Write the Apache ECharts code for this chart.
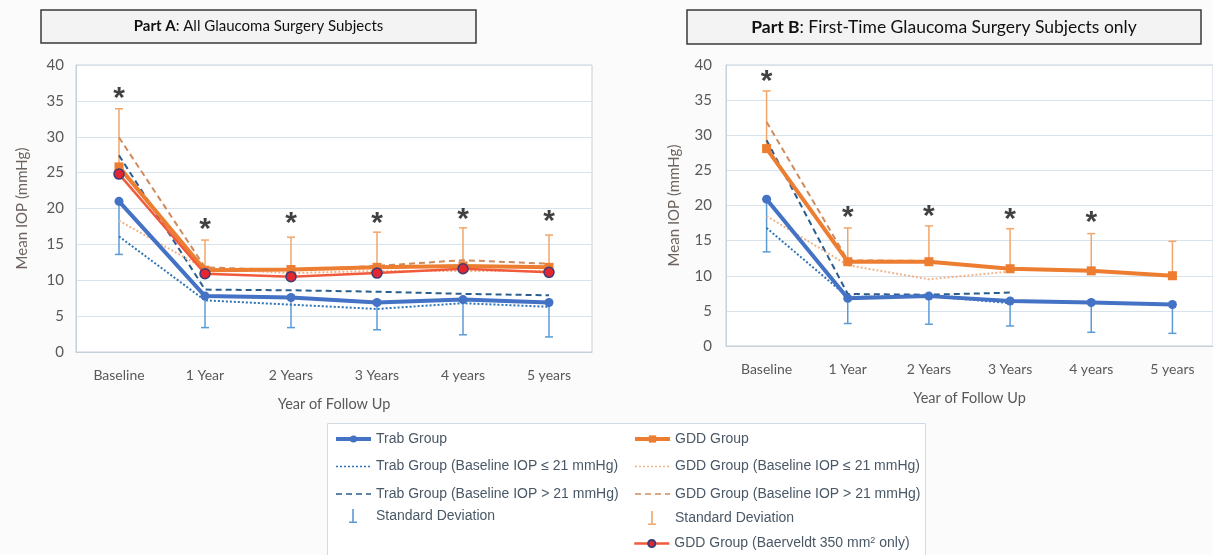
<!DOCTYPE html>
<html>
<head>
<meta charset="utf-8">
<script src="https://cdn.jsdelivr.net/npm/echarts@6/dist/echarts.min.js"></script>
<style>
html,body{margin:0;padding:0;background:#fbfbfb;}
#c{width:1213px;height:555px;}
</style>
</head>
<body>
<div id="c"></div>
<script>
// ---------- data ----------
const categories = ['Baseline', '1 Year', '2 Years', '3 Years', '4 years', '5 years'];
const yTicks = [0, 5, 10, 15, 20, 25, 30, 35, 40];

// Part A: All Glaucoma Surgery Subjects
const trabA    = [21.0, 7.8, 7.6, 6.9, 7.3, 6.9];
const trabLowA = [13.6, 3.4, 3.4, 3.1, 2.4, 2.1];
const trabLeA  = [16.1, 7.2, 6.6, 6.0, 6.8, 6.3];
const trabGtA  = [27.4, 8.7, 8.6, 8.4, 8.1, 7.9];
const gddA     = [25.8, 11.4, 11.5, 11.8, 12.0, 11.8];
const gddHighA = [33.9, 15.6, 16.0, 16.7, 17.3, 16.3];
const gddLeA   = [18.3, 11.6, 11.0, 11.3, 11.3, 11.3];
const gddGtA   = [29.9, 11.8, 11.4, 12.0, 12.8, 12.3];
const baerA    = [24.8, 10.9, 10.5, 11.0, 11.6, 11.1];
const starA    = [36.0, 17.8, 18.6, 18.6, 19.2, 18.8];

// Part B: First-Time Glaucoma Surgery Subjects only
const trabB    = [20.9, 6.8, 7.1, 6.4, 6.2, 5.9];
const trabLowB = [13.4, 3.2, 3.1, 2.85, 1.95, 1.8];
const trabLeB  = [16.8, 7.0, 7.1, 6.1, null, null];
const trabGtB  = [29.3, 7.4, 7.3, 7.6, null, null];
const gddB     = [28.1, 12.0, 12.0, 11.0, 10.7, 10.0];
const gddHighB = [36.3, 16.8, 17.1, 16.7, 16.0, 14.9];
const gddLeB   = [18.5, 11.5, 9.5, 10.6, null, null];
const gddGtB   = [31.9, 12.2, 12.1, 11.0, null, null];
const starB    = [38.4, 18.9, 19.1, 18.7, 18.2, null];

// ---------- names ----------
const N_TRAB = 'Trab Group';
const N_TRAB_LE = 'Trab Group (Baseline IOP \u2264 21 mmHg)';
const N_TRAB_GT = 'Trab Group (Baseline IOP > 21 mmHg)';
const N_SD_T = 'Standard Deviation';
const N_GDD = 'GDD Group';
const N_GDD_LE = 'GDD Group (Baseline IOP \u2264 21 mmHg)';
const N_GDD_GT = 'GDD Group (Baseline IOP > 21 mmHg)';
const N_SD_G = 'Standard Deviation (GDD)';
const N_BAER = 'GDD Group (Baerveldt 350 mm2 only)';

const C = {
  trab: '#4472c4', trabSD: '#5b9bd5', trabLe: '#2e75b6', trabGt: '#2a5d8f',
  gdd: '#ed7d31', gddSD: '#f2a66a', gddLe: '#f0b48a', gddGt: '#cf8b5c',
  baer: '#f25a3c', baerFill: '#e3262f', baerBorder: '#3c3c78'
};

const axisFont = 'Lato, "Open Sans", sans-serif';
const legendFont = '"Liberation Sans", Arial, sans-serif';

function errData(means, bounds) {
  return means.map((m, i) => (m == null || bounds[i] == null) ? null : [i, m, bounds[i]]);
}
function errSeries(name, idx, means, bounds, color) {
  return {
    type: 'custom', name: name, xAxisIndex: idx, yAxisIndex: idx,
    itemStyle: { color: color }, z: 1,
    data: errData(means, bounds).filter(d => d),
    renderItem: function (params, api) {
      const p0 = api.coord([api.value(0), api.value(1)]);
      const p1 = api.coord([api.value(0), api.value(2)]);
      const cap = 4;
      return {
        type: 'group',
        children: [
          { type: 'line', shape: { x1: p0[0], y1: p0[1], x2: p1[0], y2: p1[1] }, style: { stroke: color, lineWidth: 1.5 } },
          { type: 'line', shape: { x1: p1[0] - cap, y1: p1[1], x2: p1[0] + cap, y2: p1[1] }, style: { stroke: color, lineWidth: 1.5 } }
        ]
      };
    }
  };
}
function lineSeries(name, idx, data, color, width, type, symbol, z) {
  return {
    type: 'line', name: name, xAxisIndex: idx, yAxisIndex: idx, data: data,
    symbol: symbol || 'none', symbolSize: 9, showSymbol: !!symbol,
    lineStyle: { color: color, width: width, type: type || 'solid' },
    itemStyle: { color: color }, z: z || 2, connectNulls: false
  };
}
function starSeries(idx, data) {
  return {
    type: 'scatter', name: 'stars', xAxisIndex: idx, yAxisIndex: idx,
    data: data.map((v, i) => v == null ? null : [i, v]).filter(d => d),
    symbolSize: 1, itemStyle: { color: 'rgba(0,0,0,0)' }, z: 5, silent: true,
    label: { show: true, position: 'inside', formatter: '*', color: '#111', fontSize: 30, fontWeight: 'bold', fontFamily: legendFont, offset: [0, 5] }
  };
}
function baerSeries(idx, data) {
  return {
    type: 'line', name: N_BAER, xAxisIndex: idx, yAxisIndex: idx, data: data,
    symbol: 'circle', symbolSize: 10,
    lineStyle: { color: C.baer, width: 2.5 },
    itemStyle: { color: C.baerFill, borderColor: C.baerBorder, borderWidth: 1.5 }, z: 4
  };
}

function xAxis(idx) {
  return {
    type: 'category', gridIndex: idx, data: categories, boundaryGap: true,
    axisLine: { show: true, lineStyle: { color: '#c5d0da' } },
    axisTick: { show: false },
    axisLabel: { color: '#595959', fontSize: 14, fontFamily: axisFont, margin: 16 },
    name: 'Year of Follow Up', nameLocation: 'middle', nameGap: 45,
    nameTextStyle: { color: '#595959', fontSize: 14.5, fontFamily: axisFont }
  };
}
function yAxis(idx, margin, gap) {
  return {
    type: 'value', gridIndex: idx, min: yTicks[0], max: yTicks[yTicks.length - 1], interval: yTicks[1] - yTicks[0],
    axisLine: { show: true, lineStyle: { color: '#c5d0da' } },
    axisTick: { show: false },
    splitLine: { lineStyle: { color: '#d8e2ea', width: 1 } },
    axisLabel: { color: '#595959', fontSize: 15, fontFamily: axisFont, margin: margin },
    name: 'Mean IOP (mmHg)', nameLocation: 'middle', nameRotate: 90, nameGap: gap,
    nameTextStyle: { color: '#6d6460', fontSize: 15, fontFamily: axisFont }
  };
}

const sdPath = 'path://M0,0M36,14M17.2,0h1.6v12.4h3.2v1.6h-8v-1.6h3.2z';
const legendText = { color: '#4a5866', fontSize: 14, fontFamily: legendFont,
  rich: { sup: { fontSize: 9, verticalAlign: 'top', color: '#4a5866', fontFamily: legendFont, padding: [0, 0, 6, 0] } } };
const noMark = { color: 'rgba(0,0,0,0)', borderWidth: 0 };
function legendFmt(n) {
  if (n === N_SD_G) return 'Standard Deviation';
  if (n === N_BAER) return 'GDD Group (Baerveldt 350 mm{sup|2} only)';
  return n;
}
function legend(left, top, itemHeight, itemWidth, data) {
  return {
    left: left, top: top, orient: 'vertical', itemWidth: itemWidth, itemHeight: itemHeight, itemGap: 13.5,
    padding: 0, height: 200, textStyle: legendText, formatter: legendFmt, data: data
  };
}

const option = {
  backgroundColor: '#fbfbfb',
  animation: false,
  grid: [
    { left: 76, top: 65, width: 516, height: 287, show: true, backgroundColor: '#ffffff', borderColor: '#c5d0da', borderWidth: 1 },
    { left: 726, top: 65, width: 496, height: 281, show: true, backgroundColor: '#ffffff', borderColor: '#c5d0da', borderWidth: 1 }
  ],
  xAxis: [xAxis(0), xAxis(1)],
  yAxis: [yAxis(0, 12, 46), yAxis(1, 14, 44)],
  legend: [
    legend(334, 432, 9, 35, [
      { name: N_TRAB, lineStyle: { width: 4 } },
      { name: N_TRAB_LE, itemStyle: noMark, lineStyle: { width: 1.5 } },
      { name: N_TRAB_GT, itemStyle: noMark, lineStyle: { width: 1.5 } }
    ]),
    legend(335, 509, 14, 36, [
      { name: N_SD_T, icon: sdPath, itemStyle: { color: C.trabSD } }
    ]),
    legend(633, 432, 9, 35, [
      { name: N_GDD, lineStyle: { width: 4 } },
      { name: N_GDD_LE, itemStyle: noMark, lineStyle: { width: 1.5 } },
      { name: N_GDD_GT, itemStyle: noMark, lineStyle: { width: 1.5 } }
    ]),
    legend(634, 511, 14, 36, [
      { name: N_SD_G, icon: sdPath, itemStyle: { color: C.gddSD } }
    ]),
    legend(633, 536, 9, 35, [
      { name: N_BAER, lineStyle: { width: 2.5 } }
    ])
  ],
  graphic: [
    { type: 'rect', left: 327, top: 423, shape: { width: 598, height: 150 }, style: { fill: '#ffffff', stroke: '#d2dbe3', lineWidth: 1 }, z: -10 },
    { type: 'rect', shape: { x: 41, y: 10, width: 435, height: 33 }, style: { fill: '#f3f3f3', stroke: '#3a3a3a', lineWidth: 1.5 } },
    { type: 'text', x: 258.5, y: 26.5, style: { text: '{b|Part A}: All Glaucoma Surgery Subjects', align: 'center', verticalAlign: 'middle', fill: '#111', fontSize: 15, fontFamily: axisFont, rich: { b: { fontWeight: 'bold', fontSize: 15, fontFamily: axisFont, fill: '#111' } } } },
    { type: 'rect', shape: { x: 687, y: 10, width: 514, height: 34 }, style: { fill: '#f3f3f3', stroke: '#3a3a3a', lineWidth: 1.5 } },
    { type: 'text', x: 944, y: 27, style: { text: '{b|Part B}: First-Time Glaucoma Surgery Subjects only', align: 'center', verticalAlign: 'middle', fill: '#111', fontSize: 17.5, fontFamily: axisFont, rich: { b: { fontWeight: 'bold', fontSize: 17.5, fontFamily: axisFont, fill: '#111' } } } }
  ],
  series: [
    // Part A
    errSeries(N_SD_T, 0, trabA, trabLowA, C.trabSD),
    errSeries(N_SD_G, 0, gddA, gddHighA, C.gddSD),
    lineSeries(N_TRAB_LE, 0, trabLeA, C.trabLe, 2, [2, 2]),
    lineSeries(N_TRAB_GT, 0, trabGtA, C.trabGt, 2, [6, 4]),
    lineSeries(N_GDD_LE, 0, gddLeA, C.gddLe, 2, [2, 2]),
    lineSeries(N_GDD_GT, 0, gddGtA, C.gddGt, 2, [6, 4]),
    lineSeries(N_TRAB, 0, trabA, C.trab, 4, 'solid', 'circle', 3),
    lineSeries(N_GDD, 0, gddA, C.gdd, 4, 'solid', 'rect', 3),
    baerSeries(0, baerA),
    starSeries(0, starA),
    // Part B
    errSeries(N_SD_T, 1, trabB, trabLowB, C.trabSD),
    errSeries(N_SD_G, 1, gddB, gddHighB, C.gddSD),
    lineSeries(N_TRAB_LE, 1, trabLeB, C.trabLe, 2, [2, 2]),
    lineSeries(N_TRAB_GT, 1, trabGtB, C.trabGt, 2, [6, 4]),
    lineSeries(N_GDD_LE, 1, gddLeB, C.gddLe, 2, [2, 2]),
    lineSeries(N_GDD_GT, 1, gddGtB, C.gddGt, 2, [6, 4]),
    lineSeries(N_TRAB, 1, trabB, C.trab, 4, 'solid', 'circle', 3),
    lineSeries(N_GDD, 1, gddB, C.gdd, 4, 'solid', 'rect', 3),
    starSeries(1, starB)
  ]
};

const chart = echarts.init(document.getElementById('c'), null, { renderer: 'canvas' });
chart.setOption(option);
</script>
</body>
</html>
